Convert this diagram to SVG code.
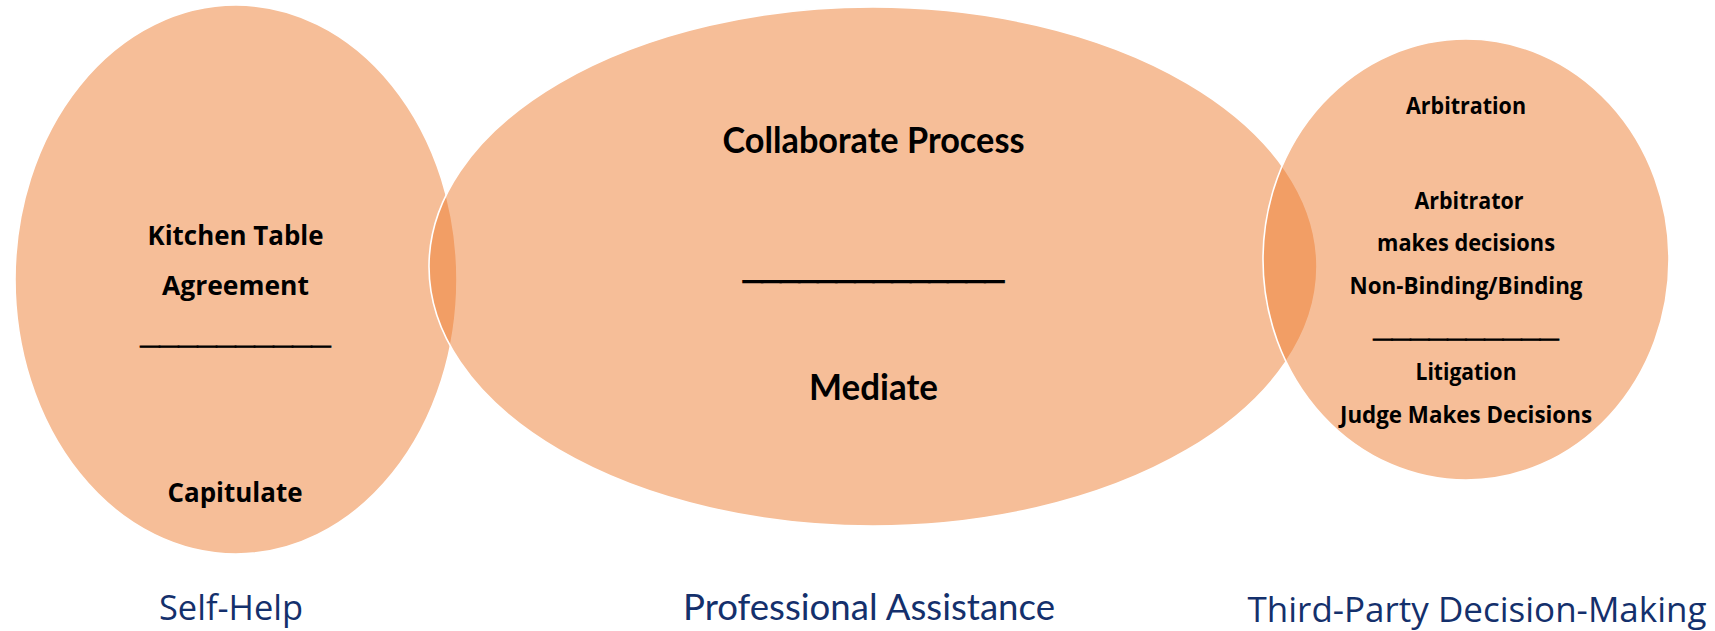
<svg xmlns="http://www.w3.org/2000/svg" width="1715" height="631" viewBox="0 0 1715 631">
<style>
.blob{fill:#ED7D31;fill-opacity:0.5;stroke:#FFFFFF;stroke-width:1.6}
.inL{font-family:"Open Sans","Liberation Sans",sans-serif;font-weight:700;font-size:26px;fill:#000000;text-anchor:middle}
.inR{font-family:"Open Sans","Liberation Sans",sans-serif;font-weight:700;font-size:22.5px;fill:#000000;text-anchor:middle}
.inM{font-family:Lato,"Open Sans","Liberation Sans",sans-serif;font-weight:700;font-size:37px;fill:#000000;text-anchor:middle}
.rule{font-family:"Liberation Sans",Arial,sans-serif;font-weight:700;font-size:34px;fill:#000000;stroke:#000000;stroke-width:1.1;text-anchor:middle}
.ruleM{stroke-width:2}
.lab{font-family:"Open Sans","Liberation Sans",sans-serif;font-weight:400;font-size:34px;fill:#14306C;text-anchor:middle}
.labM{font-family:Lato,"Open Sans","Liberation Sans",sans-serif;font-weight:400;font-size:37px;fill:#14306C;text-anchor:middle}
</style>
<rect width="1715" height="631" fill="#FFFFFF"/>
<g id="self-help">
<ellipse class="blob" cx="236" cy="279.5" rx="221" ry="274.5"/>
<text class="inL" x="235.5" y="244.5" textLength="176" lengthAdjust="spacingAndGlyphs">Kitchen Table</text>
<text class="inL" x="235.5" y="295" textLength="147" lengthAdjust="spacingAndGlyphs">Agreement</text>
<text class="rule" x="235.5" y="343" textLength="190" lengthAdjust="spacingAndGlyphs">__________</text>
<text class="inL" x="235" y="502" textLength="135" lengthAdjust="spacingAndGlyphs">Capitulate</text>
<text class="lab" x="231" y="620" textLength="144" lengthAdjust="spacingAndGlyphs">Self-Help</text>
</g>
<g id="professional-assistance">
<ellipse class="blob" cx="873" cy="266.5" rx="444" ry="259.5"/>
<text class="inM" x="873.5" y="153" textLength="302" lengthAdjust="spacingAndGlyphs">Collaborate Process</text>
<text class="rule ruleM" x="873.5" y="278" textLength="260" lengthAdjust="spacingAndGlyphs">______________</text>
<text class="inM" x="873.5" y="400" textLength="129" lengthAdjust="spacingAndGlyphs">Mediate</text>
<text class="labM" x="869" y="620" textLength="372" lengthAdjust="spacingAndGlyphs">Professional Assistance</text>
</g>
<g id="third-party">
<ellipse class="blob" cx="1466" cy="259.5" rx="203" ry="220.5"/>
<text class="inR" x="1466" y="113.5" textLength="120" lengthAdjust="spacingAndGlyphs">Arbitration</text>
<text class="inR" x="1469" y="208.5" textLength="109" lengthAdjust="spacingAndGlyphs">Arbitrator</text>
<text class="inR" x="1466" y="250.5" textLength="178" lengthAdjust="spacingAndGlyphs">makes decisions</text>
<text class="inR" x="1466" y="294" textLength="233" lengthAdjust="spacingAndGlyphs">Non-Binding/Binding</text>
<text class="rule" x="1466" y="336" textLength="185" lengthAdjust="spacingAndGlyphs">__________</text>
<text class="inR" x="1466" y="379.5" textLength="101" lengthAdjust="spacingAndGlyphs">Litigation</text>
<text class="inR" x="1466" y="422.5" textLength="252" lengthAdjust="spacingAndGlyphs">Judge Makes Decisions</text>
<text class="lab" x="1477" y="622" textLength="459" lengthAdjust="spacingAndGlyphs">Third-Party Decision-Making</text>
</g>
<g id="connectors"/>
</svg>
